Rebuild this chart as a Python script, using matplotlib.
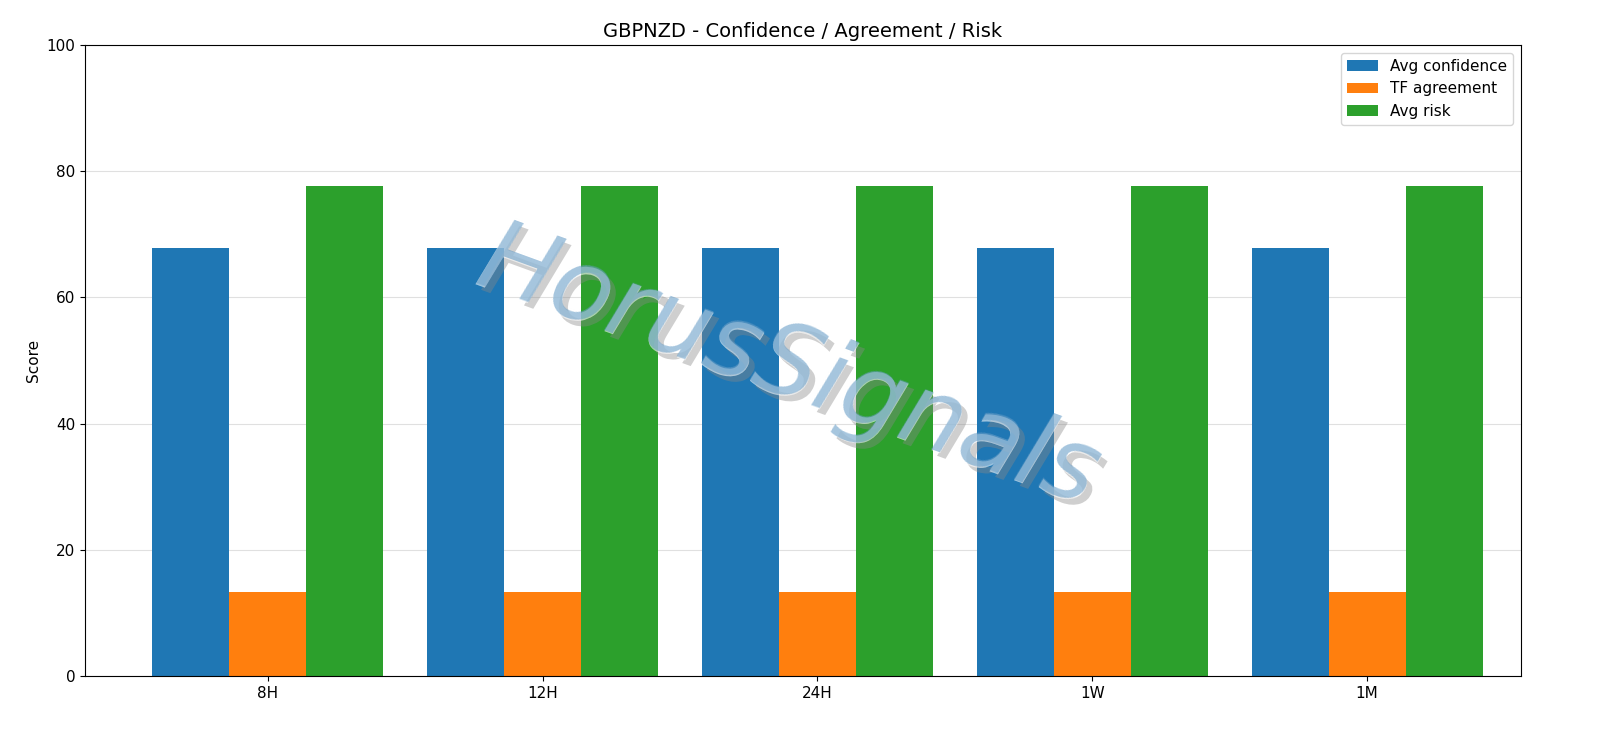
import matplotlib
matplotlib.use("Agg")
import matplotlib.pyplot as plt
import matplotlib.patheffects as pe
import numpy as np

categories = ["8H", "12H", "24H", "1W", "1M"]
avg_confidence = [67.8, 67.8, 67.8, 67.8, 67.8]
tf_agreement = [13.3, 13.3, 13.3, 13.3, 13.3]
avg_risk = [77.6, 77.6, 77.6, 77.6, 77.6]

fig = plt.figure(figsize=(16, 7.38), dpi=100)
ax = fig.add_axes([85/1600, 1-676/738, (1521-85)/1600, (676-45)/738])
x = np.arange(len(categories))
w = 0.28
ax.bar(x - w, avg_confidence, w, label="Avg confidence", color="#1f77b4", zorder=2)
ax.bar(x, tf_agreement, w, label="TF agreement", color="#ff7f0e", zorder=2)
ax.bar(x + w, avg_risk, w, label="Avg risk", color="#2ca02c", zorder=2)
ax.set_xticks(x)
ax.set_xticklabels(categories)
ax.set_ylim(0, 100)
ax.set_xlim(-0.665, 4.56)
ax.set_ylabel("Score")
ax.set_title("GBPNZD - Confidence / Agreement / Risk", fontsize=14)
ax.yaxis.grid(True, color="#e0e0e0", linewidth=0.8, zorder=0)
ax.set_axisbelow(True)
ax.legend(loc="upper right", fontsize=11)
ax.tick_params(labelsize=11)
ax.yaxis.label.set_size(11)
kw = dict(fontsize=72, rotation=-20, ha="center", va="center", style="italic")
fig.text(0.493, 0.50, "HorusSignals", color="#ffffff", alpha=0.35,
         path_effects=[pe.withSimplePatchShadow(offset=(4, -4), shadow_rgbFace="#888888", alpha=0.4), pe.Normal()], **kw)
fig.text(0.493, 0.50, "HorusSignals", color="#6a9fc8", alpha=0.6, **kw)
fig.savefig("out.png", dpi=100)
